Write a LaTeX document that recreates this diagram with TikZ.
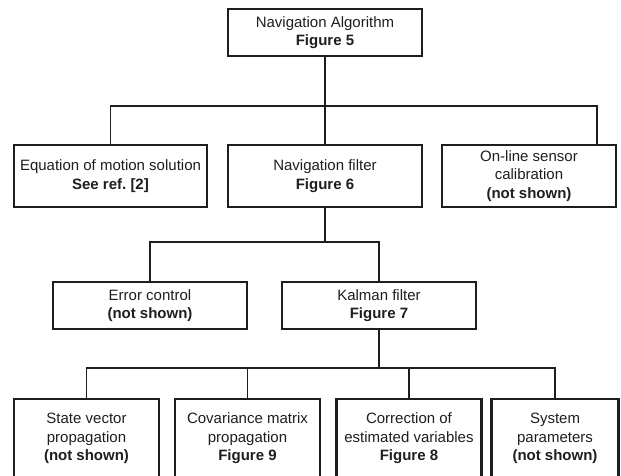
\documentclass[tikz,border=0pt]{standalone}
\usepackage{fontspec}
\setmainfont{Liberation Sans}
\frenchspacing
\definecolor{ink}{HTML}{1E1E1E}
\begin{document}
\begin{tikzpicture}[x=1pt,y=-1pt,
  box/.style={draw=ink,line width=2.2pt,rectangle,inner sep=0pt,align=center,
    font=\fontsize{15}{18.5}\selectfont,text=ink},
  wide/.style={minimum width=194pt,minimum height=47pt},
  mid/.style={minimum width=193pt,minimum height=62pt},
  low/.style={minimum width=145pt,minimum height=79pt},
  link/.style={draw=ink,line width=1.9pt}]
\useasboundingbox (0,0) rectangle (621,475);
% level 0
\node[box,wide] (top) at (325,32.5) {Navigation Algorithm\\\textbf{Figure 5}};
% level 1
\node[box,mid] (eq) at (110.5,176) {Equation of motion solution\\\textbf{See ref.\ [2]}};
\node[box,minimum width=194pt,minimum height=62pt] (nf) at (325,176) {Navigation filter\\\textbf{Figure 6}};
\node[box,minimum width=174pt,minimum height=62pt] (ol) at (529,176) {On-line sensor\\calibration\\\textbf{(not shown)}};
% level 2
\node[box,wide] (ec) at (150,305.5) {Error control\\\textbf{(not shown)}};
\node[box,wide] (kf) at (379,305.5) {Kalman filter\\\textbf{Figure 7}};
% level 3
\node[box,low] (sv) at (86.5,438.5) {State vector\\propagation\\\textbf{(not shown)}};
\node[box,low] (cm) at (247.5,438.5) {Covariance matrix\\propagation\\\textbf{Figure 9}};
\node[box,low] (ce) at (409,438.5) {Correction of\\estimated variables\\\textbf{Figure 8}};
\node[box,minimum width=127pt,minimum height=79pt] (sp) at (555,438.5) {System\\parameters\\\textbf{(not shown)}};
% brackets
\coordinate (b1) at (325,106);
\coordinate (rd) at (597,106);
\coordinate (b2) at (325,242);
\coordinate (b3) at (379,368);
\draw[link] (top.south) -- (b1);
\draw[link] (eq.north) |- (b1) -- (rd) -- (rd |- ol.north);
\draw[link] (b1) -- (nf.north);
\draw[link] (nf.south) -- (b2);
\draw[link] (ec.north) |- (b2) -| (kf.north);
\draw[link] (kf.south) -- (b3);
\draw[link] (sv.north) |- (b3) -| (sp.north);
\draw[link] (cm.north) -- (cm.north |- b3);
\draw[link] (ce.north) -- (ce.north |- b3);
\end{tikzpicture}
\end{document}
